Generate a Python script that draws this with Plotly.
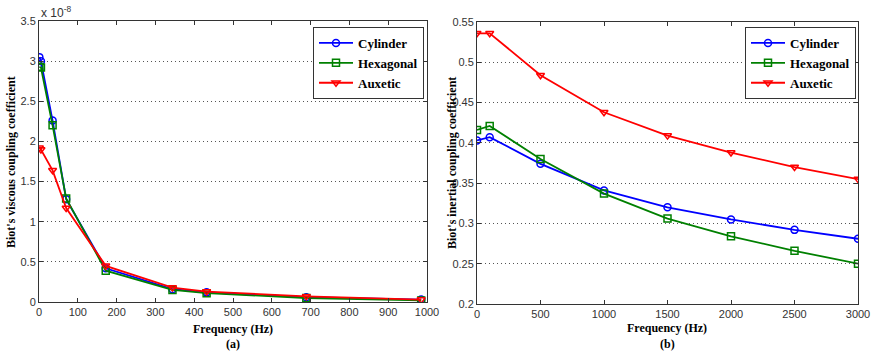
import plotly.graph_objects as go

W, H = 872, 353

# ---- Data: panel (a) viscous coupling coefficient (units of 1e-8) ----
freq_a = [1, 5, 35, 70, 172, 344, 432, 689, 985]
cyl_a = [3.05, 3.00, 2.26, 1.28, 0.42, 0.16, 0.12, 0.06, 0.03]
hex_a = [2.93, 2.92, 2.20, 1.29, 0.39, 0.15, 0.11, 0.05, 0.02]
aux_a = [1.92, 1.90, 1.64, 1.17, 0.45, 0.18, 0.13, 0.07, 0.03]

# ---- Data: panel (b) inertial coupling coefficient ----
freq_b = [0, 100, 500, 1000, 1500, 2000, 2500, 3000]
cyl_b = [0.403, 0.407, 0.374, 0.341, 0.320, 0.305, 0.292, 0.281]
hex_b = [0.416, 0.421, 0.380, 0.337, 0.306, 0.284, 0.266, 0.250]
aux_b = [0.536, 0.536, 0.484, 0.438, 0.409, 0.388, 0.370, 0.355]

names = ["Cylinder", "Hexagonal", "Auxetic"]
colors = ["#0000ff", "#008000", "#ff0000"]
symbols = ["circle-open", "square-open", "triangle-down-open"]

ticks_a_x = list(range(0, 1001, 100))
ticks_a_y = [0, 0.5, 1, 1.5, 2, 2.5, 3, 3.5]
ticks_b_x = list(range(0, 3001, 500))
ticks_b_y = [0.2, 0.25, 0.3, 0.35, 0.4, 0.45, 0.5, 0.55]

fig = go.Figure()

for name, col, sym, ya in zip(names, colors, symbols, [cyl_a, hex_a, aux_a]):
    fig.add_trace(go.Scatter(
        x=freq_a, y=ya, name=name, mode="lines+markers",
        line=dict(color=col, width=1.8),
        marker=dict(symbol=sym, size=7, color=col, line=dict(width=1.5, color=col)),
        xaxis="x", yaxis="y", legend="legend",
    ))

for name, col, sym, yb in zip(names, colors, symbols, [cyl_b, hex_b, aux_b]):
    fig.add_trace(go.Scatter(
        x=freq_b, y=yb, name=name, mode="lines+markers",
        line=dict(color=col, width=1.8),
        marker=dict(symbol=sym, size=7, color=col, line=dict(width=1.5, color=col)),
        xaxis="x2", yaxis="y2", legend="legend2",
    ))

def px_x(p):
    return p / W

def px_y(p):
    return 1 - p / H

tickfont = dict(family="Liberation Sans, Arial", size=11, color="#333333")
axis_common = dict(
    showline=True, linecolor="#333333", linewidth=1, mirror="ticks",
    ticks="inside", ticklen=4, tickcolor="#333333", tickfont=tickfont,
    zeroline=False, automargin=False,
)
grid_common = dict(showgrid=True, gridcolor="#555555", griddash="1px,3px", gridwidth=1)

legend_font = dict(family="Liberation Serif, Times New Roman", size=13, color="black",
                   weight="bold")

fig.update_layout(
    width=W, height=H,
    margin=dict(l=0, r=0, t=0, b=0),
    paper_bgcolor="white", plot_bgcolor="white",
    xaxis=dict(domain=[px_x(39), px_x(427)], range=[0, 1000], tickvals=ticks_a_x,
               showgrid=False, anchor="y", **axis_common),
    yaxis=dict(domain=[px_y(302), px_y(21)], range=[0, 3.5], tickvals=ticks_a_y,
               ticktext=["0", "0.5", "1", "1.5", "2", "2.5", "3", "3.5"],
               anchor="x", **grid_common, **axis_common),
    xaxis2=dict(domain=[px_x(477), px_x(858)], range=[0, 3000], tickvals=ticks_b_x,
                showgrid=False, anchor="y2", **axis_common),
    yaxis2=dict(domain=[px_y(304), px_y(22)], range=[0.2, 0.55], tickvals=ticks_b_y,
                ticktext=["0.2", "0.25", "0.3", "0.35", "0.4", "0.45", "0.5", "0.55"],
                anchor="x2", **grid_common, **axis_common),
    legend=dict(x=px_x(313), y=px_y(27), xanchor="left", yanchor="top",
                bgcolor="white", bordercolor="#333333", borderwidth=1,
                font=legend_font, tracegroupgap=0, itemwidth=34),
    legend2=dict(x=px_x(745), y=px_y(27), xanchor="left", yanchor="top",
                 bgcolor="white", bordercolor="#333333", borderwidth=1,
                 font=legend_font, tracegroupgap=0, itemwidth=34),
    showlegend=True,
)

title_font = dict(family="Liberation Serif, Times New Roman", size=12, color="black")
ann = [
    dict(text="<b>Frequency (Hz)</b>", x=px_x(233), y=px_y(329), font=title_font),
    dict(text="<b>(a)</b>", x=px_x(233), y=px_y(344), font=title_font),
    dict(text="<b>Frequency (Hz)</b>", x=px_x(667), y=px_y(328), font=title_font),
    dict(text="<b>(b)</b>", x=px_x(667), y=px_y(344), font=title_font),
    dict(text="<b>Biot's viscous coupling coefficient</b>", x=px_x(11), y=px_y(162),
         textangle=-90, font=title_font),
    dict(text="<b>Biot's inertial coupling coefficient</b>", x=px_x(452), y=px_y(163),
         textangle=-90, font=title_font),
    dict(text="x 10<sup>-8</sup>", x=px_x(39), y=px_y(12), xanchor="left",
         font=dict(family="Liberation Sans, Arial", size=12, color="#333333")),
]
for a in ann:
    a.setdefault("xanchor", "center")
    a.update(xref="paper", yref="paper", showarrow=False, yanchor="middle")
    fig.add_annotation(**a)

fig.write_html("out.html")
